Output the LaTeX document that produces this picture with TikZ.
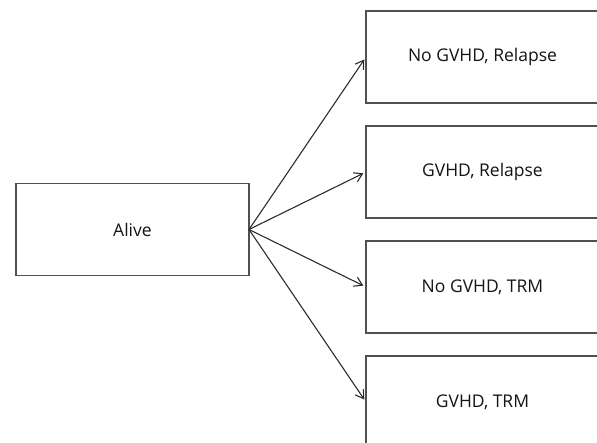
\documentclass[tikz,border=0pt]{standalone}
\usepackage{fontspec}
\setmainfont{Open Sans}
\usetikzlibrary{arrows.meta,positioning}
\definecolor{msline}{HTML}{505050}
\definecolor{msink}{HTML}{141414}
\tikzset{
  ms state/.style={
    draw=msline,
    line width=1.3pt,
    fill=white,
    align=center,
    text=msink,
    minimum width=233pt,
    minimum height=92pt,
    outer sep=0pt,
  },
  ms trans/.style={-{Straight Barb[length=8pt,width=10pt]}, line width=1.1pt, draw=msink!90, shorten >=3pt},
}

\begin{document}
\begin{tikzpicture}[x=1pt, y=-1pt, font=\fontsize{17.5}{20}\selectfont]

  % --- frame of the picture (boxes on the right run past it) ---
  \useasboundingbox (0,0) rectangle (597,442);
  \clip (0,0) rectangle (597,442);

  % --- Starting state ---
  \node[ms state] (alive) at (132.5, 229.5) {Alive};

  % --- Competing outcomes ---
  \node[ms state] (relnogvhd) at (482.5, 57)  {No GVHD, Relapse};
  \node[ms state] (relgvhd)   at (482.5, 172) {GVHD, Relapse};
  \node[ms state] (trmnogvhd) at (482.5, 287) {No GVHD, TRM};
  \node[ms state] (trmgvhd)   at (482.5, 402) {GVHD, TRM};

  % --- Transitions out of Alive ---
  \draw[ms trans] (alive.east) -- (relnogvhd.west);
  \draw[ms trans] (alive.east) -- (relgvhd.west);
  \draw[ms trans] (alive.east) -- (trmnogvhd.west);
  \draw[ms trans] (alive.east) -- (trmgvhd.west);

\end{tikzpicture}
\end{document}
